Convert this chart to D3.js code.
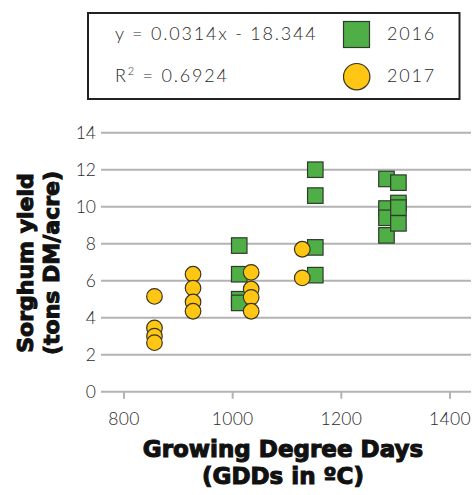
<!DOCTYPE html>
<html>
<head>
<meta charset="utf-8">
<script src="https://cdn.jsdelivr.net/npm/d3@7"></script>
<style>
  body { margin: 0; background: #fff; }
  svg { display: block; }
</style>
</head>
<body>
<svg id="chart" width="475" height="495"></svg>
<script>
// Data
const gdd2016 = [1013, 1013, 1013, 1013, 1153, 1153, 1153, 1153, 1284, 1284, 1284, 1284, 1306, 1306, 1306, 1306];
const yield2016 = [7.9, 6.35, 5.0, 4.8, 12.0, 10.6, 7.8, 6.3, 11.5, 9.9, 9.4, 8.45, 11.3, 10.2, 9.95, 9.1];
const gdd2017 = [857, 857, 857, 857, 928, 928, 928, 928, 1035, 1035, 1035, 1035, 1129, 1129];
const yield2017 = [5.15, 3.45, 3.0, 2.65, 6.35, 5.6, 4.85, 4.35, 6.45, 5.55, 5.1, 4.35, 7.7, 6.15];
const xTicks = [800, 1000, 1200, 1400];
const yTicks = [0, 2, 4, 6, 8, 10, 12, 14];
const legendItems = ["2016", "2017"];
const equationText = "y = 0.0314x - 18.344";

const green = "#4fae46";
const yellow = "#ffc613";
const grid = "#b3b3b3";
const textCol = "#2a2a2a";
const lightFont = "Lato, 'Open Sans', sans-serif";
const lightWeight = 300;
const boldFont = "'DejaVu Sans', sans-serif";

const svg = d3.select("#chart");

const x = d3.scaleLinear().domain([800, 1400]).range([123.5, 449.5]);
const y = d3.scaleLinear().domain([0, 14]).range([391.7, 132.7]);
const xLeft = 101, xRight = 471;

// Grid lines
svg.append("g")
    .selectAll("line")
    .data(yTicks)
    .enter()
    .append("line")
    .attr("x1", xLeft)
    .attr("x2", xRight)
    .attr("y1", d => y(d))
    .attr("y2", d => y(d))
    .attr("stroke", grid)
    .attr("stroke-width", 2);

// Y tick labels
svg.append("g")
    .selectAll("text")
    .data(yTicks)
    .enter()
    .append("text")
    .attr("x", 96)
    .attr("y", d => y(d))
    .attr("dy", "0.36em")
    .attr("text-anchor", "end")
    .attr("font-family", lightFont)
    .attr("font-weight", lightWeight)
    .attr("font-size", 17.5)
    .attr("fill", textCol)
    .text(d => d);

// X axis ticks
const xAxis = svg.append("g")
    .attr("transform", `translate(0, ${y(0)})`)
    .call(d3.axisBottom(x).tickValues(xTicks).tickFormat(d3.format("d")).tickSize(7).tickPadding(14));
xAxis.select(".domain").remove();
xAxis.selectAll(".tick line").attr("stroke", grid).attr("stroke-width", 2);
xAxis.selectAll(".tick text")
    .attr("font-family", lightFont)
    .attr("font-weight", lightWeight)
    .attr("font-size", 17.5)
    .attr("letter-spacing", 0.3)
    .attr("fill", textCol);

// Axis titles
const xTitle = svg.append("text")
    .attr("x", 283)
    .attr("text-anchor", "middle")
    .attr("font-family", boldFont)
    .attr("font-weight", "bold")
    .attr("font-size", 23)
    .attr("fill", "#111")
    .attr("stroke", "#111")
    .attr("stroke-width", 1.1);
xTitle.append("tspan").attr("x", 283).attr("y", 457).text("Growing Degree Days");
xTitle.append("tspan").attr("x", 283).attr("y", 484).text("(GDDs in ºC)");

const yTitle = svg.append("text")
    .attr("transform", "translate(0, 263) rotate(-90)")
    .attr("text-anchor", "middle")
    .attr("font-family", boldFont)
    .attr("font-weight", "bold")
    .attr("font-size", 22)
    .attr("fill", "#111")
    .attr("stroke", "#111")
    .attr("stroke-width", 1.1);
yTitle.append("tspan").attr("x", 0).attr("y", 33).text("Sorghum yield");
yTitle.append("tspan").attr("x", 0).attr("y", 59).text("(tons DM/acre)");

// 2016 squares
const sq = 15.5;
svg.append("g")
    .selectAll("rect")
    .data(gdd2016.map((g, i) => ({ g, v: yield2016[i] })))
    .enter()
    .append("rect")
    .attr("x", d => x(d.g) - sq / 2)
    .attr("y", d => y(d.v) - sq / 2)
    .attr("width", sq)
    .attr("height", sq)
    .attr("fill", green)
    .attr("stroke", "#2f3a2c")
    .attr("stroke-width", 1.2);

// 2017 circles
svg.append("g")
    .selectAll("circle")
    .data(gdd2017.map((g, i) => ({ g, v: yield2017[i] })))
    .enter()
    .append("circle")
    .attr("cx", d => x(d.g))
    .attr("cy", d => y(d.v))
    .attr("r", 7.8)
    .attr("fill", yellow)
    .attr("stroke", "#3a3520")
    .attr("stroke-width", 1.2);

// Legend box
const legend = svg.append("g");
legend.append("rect")
    .attr("x", 88).attr("y", 13)
    .attr("width", 371.5).attr("height", 86)
    .attr("fill", "#fff")
    .attr("stroke", "#222")
    .attr("stroke-width", 2);

const legendText = sel => sel
    .attr("font-family", lightFont)
    .attr("font-weight", lightWeight)
    .attr("font-size", 18)
    .attr("letter-spacing", 1.8)
    .attr("fill", textCol);

legend.append("text")
    .attr("x", 115).attr("y", 40)
    .call(legendText)
    .text(equationText);

const r2 = legend.append("text")
    .attr("x", 115).attr("y", 81.5)
    .call(legendText);
r2.append("tspan").text("R");
r2.append("tspan").attr("font-size", 11).attr("dy", -7).text("2");
r2.append("tspan").attr("dy", 7).text(" = 0.6924");

legend.append("rect")
    .attr("x", 343.5).attr("y", 21.5)
    .attr("width", 26).attr("height", 26)
    .attr("fill", green)
    .attr("stroke", "#2f3a2c")
    .attr("stroke-width", 1.2);
legend.append("circle")
    .attr("cx", 356.7).attr("cy", 76.7)
    .attr("r", 13.2)
    .attr("fill", yellow)
    .attr("stroke", "#3a3520")
    .attr("stroke-width", 1.2);

legend.selectAll(".lab")
    .data(legendItems)
    .enter()
    .append("text")
    .attr("class", "lab")
    .attr("x", 387)
    .attr("y", (d, i) => 40 + i * 41.5)
    .call(legendText)
    .text(d => d);
</script>
</body>
</html>
